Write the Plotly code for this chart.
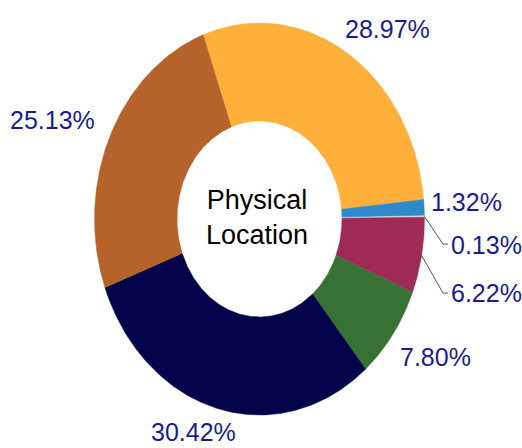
import numpy as np
import plotly.graph_objects as go

# Share of each segment (percent), in clockwise order from the top-left boundary
shares = [28.97, 1.32, 0.13, 6.22, 7.80, 30.42, 25.13]
colors = ["#FFB03B", "#2F8ACC", "#D9D9D9", "#9E2A55", "#377234", "#03034B", "#B5632A"]

# Label anchor points (axis units) and anchors
label_pos = [(0.773, 0.969), (1.252, 0.087), (1.148, -0.133), (1.148, -0.378),
             (1.064, -0.704), (-0.403, -1.085), (-1.252, 0.505)]
label_anchor = ["center", "center", "left", "left", "center", "center", "center"]
# Segments whose labels are joined by a leader line: index -> elbow point
leaders = {2: (1.112, -0.128), 3: (1.112, -0.378)}

START_DEG = -20.0   # first boundary, clockwise from 12 o'clock
HOLE = 0.5
LABEL_COLOR = "#1C1C92"
FONT = "Arial, Liberation Sans, sans-serif"

fig = go.Figure()

total = sum(shares)
bounds = START_DEG + np.concatenate([[0], np.cumsum(shares)]) / total * 360.0


def ring_point(deg, r):
    t = np.deg2rad(deg)
    return r * np.sin(t), r * np.cos(t)


for i, (v, c) in enumerate(zip(shares, colors)):
    a0, a1 = bounds[i], bounds[i + 1]
    n = max(4, int((a1 - a0) * 2))
    arc = np.linspace(a0, a1, n)
    ox, oy = ring_point(arc, 1.0)
    ix, iy = ring_point(arc[::-1], HOLE)
    fig.add_trace(go.Scatter(
        x=np.concatenate([ox, ix, ox[:1]]),
        y=np.concatenate([oy, iy, oy[:1]]),
        mode="lines", fill="toself", fillcolor=c,
        line=dict(color=c, width=0.5), hoverinfo="skip", showlegend=False,
    ))

# Leader lines for the two small segments on the right
for i, (ex, ey) in leaders.items():
    mid = (bounds[i] + bounds[i + 1]) / 2
    sx, sy = ring_point(mid, 1.0)
    lx = label_pos[i][0] - 0.006
    fig.add_trace(go.Scatter(
        x=[sx, ex, lx], y=[sy, ey, ey], mode="lines",
        line=dict(color="#555555", width=1), hoverinfo="skip", showlegend=False,
    ))

for i, v in enumerate(shares):
    x, y = label_pos[i]
    fig.add_annotation(
        x=x, y=y, text=f"{v:.2f}%", showarrow=False,
        xanchor=label_anchor[i], yanchor="middle",
        font=dict(family=FONT, size=25, color=LABEL_COLOR),
    )

fig.add_annotation(
    x=-0.015, y=0.01, text="Physical<br>Location", showarrow=False,
    font=dict(family=FONT, size=27, color="#000000"),
)

W, H = 522, 448
CX, CY, RX, RY = 259.5, 219.0, 165.0, 196.0
fig.update_layout(
    width=W, height=H,
    margin=dict(l=0, r=0, t=0, b=0),
    paper_bgcolor="white", plot_bgcolor="white",
    xaxis=dict(range=[-CX / RX, (W - CX) / RX], visible=False, fixedrange=True),
    yaxis=dict(range=[-(H - CY) / RY, CY / RY], visible=False, fixedrange=True),
)

fig.write_html("out.html")
